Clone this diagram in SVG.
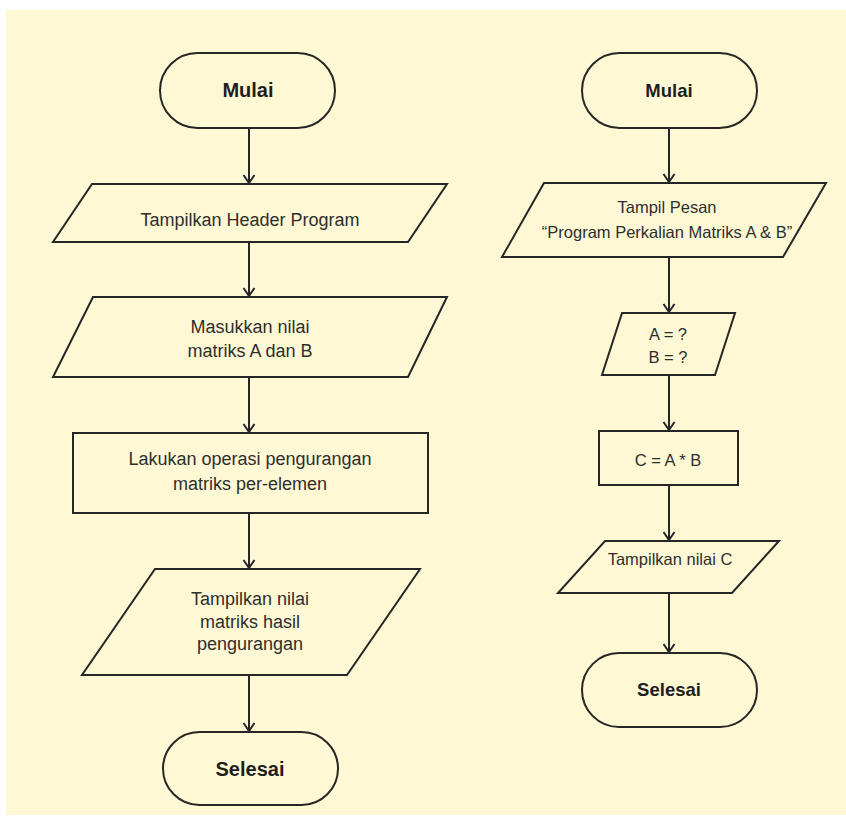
<svg xmlns="http://www.w3.org/2000/svg" width="846" height="816" viewBox="0 0 846 816">
  <defs>
    <style>
      .shape { fill: #fef9d4; stroke: #262626; stroke-width: 2; }
      .flow { fill: none; stroke: #262626; stroke-width: 2; }
      .lbl { font-family: "Liberation Sans", Arial, sans-serif; fill: #2e2e2e; text-anchor: middle; }
      .l18 { font-size: 18px; }
      .l17 { font-size: 16.5px; }
      .t20 { font-size: 20px; font-weight: bold; fill: #1e1e1e; }
      .t18 { font-size: 18.5px; font-weight: bold; fill: #1e1e1e; }
    </style>
    <marker id="arrow" markerUnits="userSpaceOnUse" markerWidth="14" markerHeight="14" refX="0" refY="0" viewBox="-10 -7 12 14" orient="auto" overflow="visible">
      <path d="M-8,-5.5 L0,0 L-8,5.5" fill="none" stroke="#262626" stroke-width="2" stroke-linejoin="miter"/>
    </marker>
  </defs>

  <!-- page background -->
  <rect x="0" y="0" width="846" height="816" fill="#ffffff"/>
  <rect x="6" y="10" width="840" height="805" fill="#fef9d4"/>

  <!-- connectors -->
  <g id="connectors">
    <!-- left flow -->
    <line class="flow" x1="249" y1="128" x2="249" y2="183" marker-end="url(#arrow)"/>
    <line class="flow" x1="249" y1="242" x2="249" y2="296" marker-end="url(#arrow)"/>
    <line class="flow" x1="249" y1="377" x2="249" y2="432" marker-end="url(#arrow)"/>
    <line class="flow" x1="249" y1="513" x2="249" y2="568" marker-end="url(#arrow)"/>
    <line class="flow" x1="249" y1="675" x2="249" y2="731" marker-end="url(#arrow)"/>
    <!-- right flow -->
    <line class="flow" x1="669" y1="128" x2="669" y2="182" marker-end="url(#arrow)"/>
    <line class="flow" x1="669" y1="257" x2="669" y2="312" marker-end="url(#arrow)"/>
    <line class="flow" x1="669" y1="375" x2="669" y2="430" marker-end="url(#arrow)"/>
    <line class="flow" x1="669" y1="485" x2="669" y2="540" marker-end="url(#arrow)"/>
    <line class="flow" x1="669" y1="593" x2="669" y2="652" marker-end="url(#arrow)"/>
  </g>

  <!-- left flowchart -->
  <g id="l-start">
    <rect class="shape" x="160" y="53" width="175" height="75" rx="37.5"/>
    <text class="lbl t20" x="248" y="97">Mulai</text>
  </g>
  <g id="l-header">
    <polygon class="shape" points="92,184 447,184 408,242 53,242"/>
    <text class="lbl l18" x="250" y="226">Tampilkan Header Program</text>
  </g>
  <g id="l-input">
    <polygon class="shape" points="93,297 447,297 408,377 53,377"/>
    <text class="lbl l18" x="250" y="333">Masukkan nilai</text>
    <text class="lbl l18" x="250" y="357">matriks A dan B</text>
  </g>
  <g id="l-process">
    <rect class="shape" x="73" y="433" width="355" height="80"/>
    <text class="lbl l18" x="250" y="465">Lakukan operasi pengurangan</text>
    <text class="lbl l18" x="250" y="490">matriks per-elemen</text>
  </g>
  <g id="l-output">
    <polygon class="shape" points="155,569 420,569 347,675 82,675"/>
    <text class="lbl l18" x="250" y="605">Tampilkan nilai</text>
    <text class="lbl l18" x="250" y="628">matriks hasil</text>
    <text class="lbl l18" x="250" y="650">pengurangan</text>
  </g>
  <g id="l-end">
    <rect class="shape" x="163" y="732" width="175" height="73" rx="36.5"/>
    <text class="lbl t20" x="250" y="776">Selesai</text>
  </g>

  <!-- right flowchart -->
  <g id="r-start">
    <rect class="shape" x="582" y="53" width="175" height="75" rx="37.5"/>
    <text class="lbl t18" x="669" y="97">Mulai</text>
  </g>
  <g id="r-message">
    <polygon class="shape" points="544,183 826,183 783,257 502,257"/>
    <text class="lbl l17" x="667" y="213">Tampil Pesan</text>
    <text class="lbl l17" x="667" y="238">“Program Perkalian Matriks A &amp; B”</text>
  </g>
  <g id="r-input">
    <polygon class="shape" points="622,313 735,313 715,375 602,375"/>
    <text class="lbl l17" x="668" y="340">A = ?</text>
    <text class="lbl l17" x="668" y="363">B = ?</text>
  </g>
  <g id="r-process">
    <rect class="shape" x="599" y="431" width="139" height="54"/>
    <text class="lbl l17" x="668" y="466">C = A * B</text>
  </g>
  <g id="r-output">
    <polygon class="shape" points="605,541 779,541 732,593 558,593"/>
    <text class="lbl l17" x="670" y="565">Tampilkan nilai C</text>
  </g>
  <g id="r-end">
    <rect class="shape" x="582" y="653" width="175" height="74" rx="37"/>
    <text class="lbl t18" x="669" y="696">Selesai</text>
  </g>
</svg>
